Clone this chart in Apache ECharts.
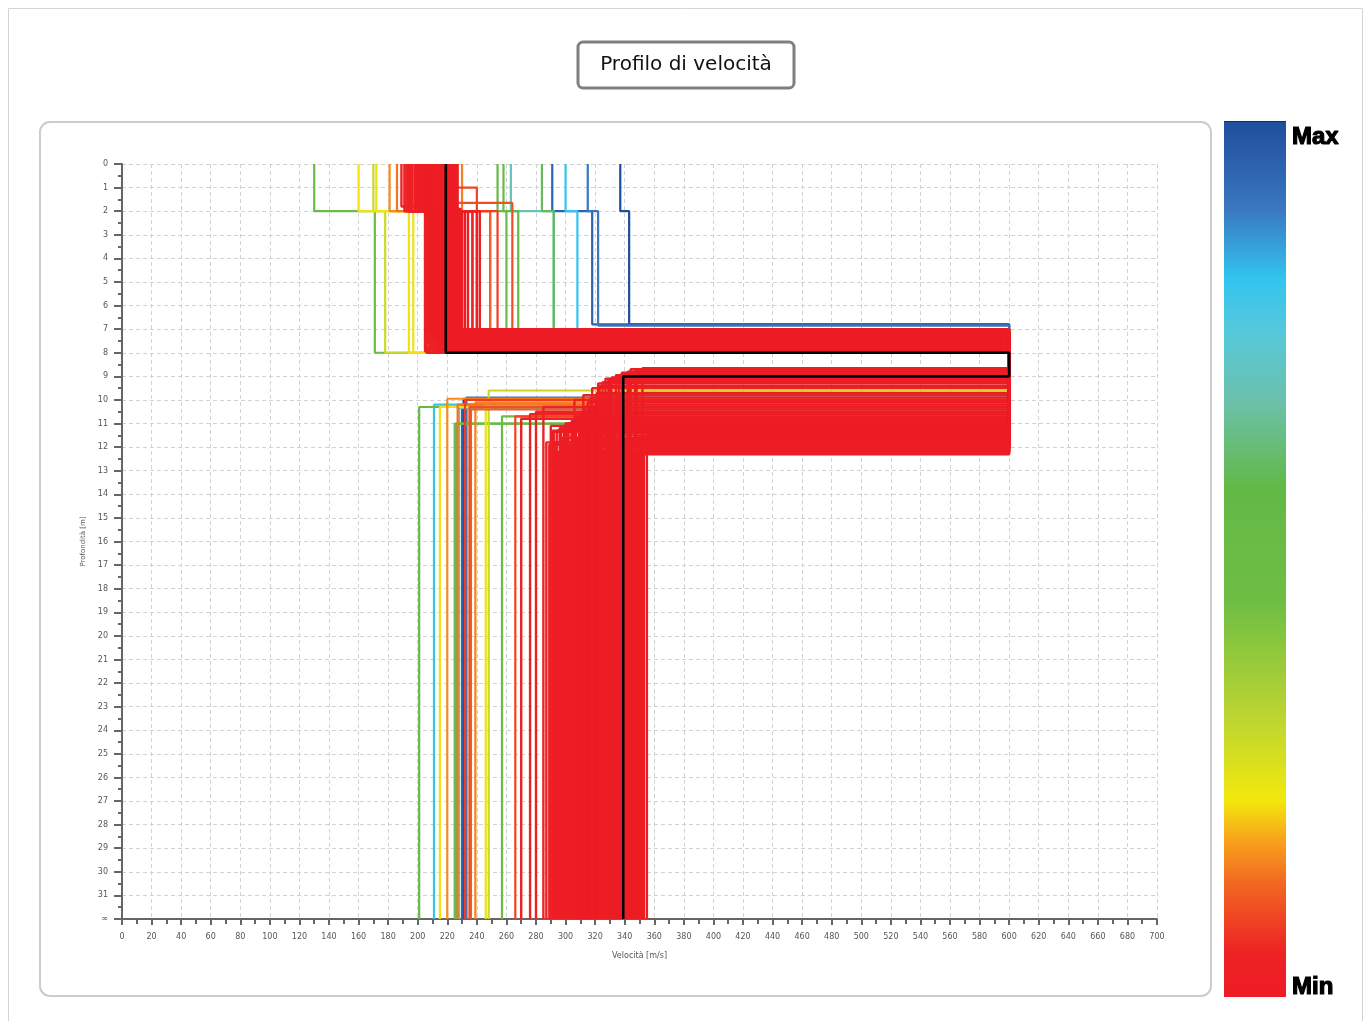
<!DOCTYPE html>
<html>
<head>
<meta charset="utf-8">
<title>Profilo di velocità</title>
<script src="https://cdn.jsdelivr.net/npm/echarts@6/dist/echarts.min.js"></script>
<style>
  html, body { margin: 0; padding: 0; background: #ffffff; }
  #chart { width: 1370px; height: 1021px; }
</style>
</head>
<body>
<div id="chart"></div>
<script>
// Shear-wave velocity profiles of the inversion (one entry per model).
// vsN = velocity of layer N [m/s], zbN = depth of the bottom of layer N [m],
// vs4 = half-space velocity, misfit = normalised misfit (0 = min, 1 = max).
const vs1 = [337, 315, 291, 300, 263, 284, 254, 130, 258, 170, 160, 172, 181, 230, 186, 225, 225, 192, 197,
             205, 210, 214, 216, 218, 220, 222, 212, 208, 202, 200, 217, 219, 221, 223, 215, 213, 211, 224, 226,
             218, 220, 216, 222, 214, 209, 206, 203, 219, 217, 215, 221, 223, 220, 218, 216, 212, 210, 204, 201,
             199, 196, 194, 207, 211, 213, 209, 224, 225, 220,
             221, 222, 224, 226, 227, 220, 223, 225, 221, 219, 218, 217, 214, 212, 210, 208, 206, 204, 202, 200,
             198, 195, 193, 191, 189];
const zb1 = [2, 2, 2, 2, 2, 2, 2, 2, 2, 2, 2, 2, 2, 2, 2, 1.65, 1.0, 2, 2,
             2, 1.95, 2, 1.9, 2, 2, 1.85, 2, 2, 2, 2, 1.8, 2, 2, 1.9, 2, 2, 2, 2, 2,
             1.95, 2, 2, 2, 2, 1.9, 2, 2, 2, 2, 2, 2, 2, 2, 2, 2, 2, 2, 2, 2,
             2, 2, 2, 2, 1.8, 2, 2, 2, 1.9, 2,
             2, 2, 2, 2, 2, 1.9, 2, 2, 2, 2, 2, 2, 2, 2, 2, 2, 2, 2, 1.9, 2,
             2, 2, 2, 2, 1.8];
const vs2 = [343, 322, 318, 308, 292, 292, 268, 171, 260, 178, 194, 197, 206, 237, 249, 264, 240, 254, 249,
             212, 215, 217, 221, 223, 225, 227, 214, 211, 208, 206, 219, 222, 224, 226, 218, 220, 216, 228, 230,
             221, 223, 219, 232, 229, 213, 210, 209, 226, 224, 234, 226, 224, 222, 221, 220, 237, 242, 215, 213,
             211, 209, 207, 230, 218, 225, 240, 227, 229, 221,
             223, 225, 226, 227, 228, 222, 224, 226, 227, 221, 220, 219, 218, 216, 215, 213, 212, 210, 209, 207,
             205, 205, 206, 208, 210];
const zb2 = [6.8, 6.85, 6.8, 7.9, 7.9, 7.85, 7.9, 8.0, 7.9, 8.0, 8.0, 8.0, 8.0, 7.85, 7.85, 7.8, 7.8, 7.85, 7.8,
             7.95, 7.9, 7.8, 7.7, 7.6, 7.5, 7.4, 7.95, 7.95, 8.0, 8.0, 7.85, 7.75, 7.65, 7.55, 7.45, 7.35, 7.25, 7.15, 7.05,
             7.9, 7.8, 7.7, 7.6, 7.5, 7.4, 7.3, 7.2, 7.1, 7.0, 7.85, 7.75, 7.65, 7.55, 7.45, 7.35, 7.2, 7.1, 7.0, 7.9,
             7.8, 7.7, 7.6, 7.5, 7.4, 7.3, 7.15, 7.05, 7.95, 7.85,
             7.9, 7.8, 7.7, 7.6, 7.5, 7.4, 7.3, 7.2, 7.1, 7.0, 7.9, 7.8, 7.7, 7.6, 7.5, 7.4, 7.3, 7.2, 7.1, 7.0,
             7.95, 7.85, 7.75, 7.65, 7.55];
const vs3 = [600, 600, 600, 600, 600, 600, 600, 600, 600, 600, 600, 600, 600, 600, 600, 600, 600, 600, 600,
             600, 600, 600, 600, 600, 600, 600, 600, 600, 600, 600, 600, 600, 600, 600, 600, 600, 600, 600, 600,
             600, 600, 600, 600, 600, 600, 600, 600, 600, 600, 600, 600, 600, 600, 600, 600, 600, 600, 600, 600,
             600, 600, 600, 600, 600, 600, 600, 600, 600, 600,
             600, 600, 600, 600, 600, 600, 600, 600, 600, 600, 600, 600, 600, 600, 600, 600, 600, 600, 600, 600,
             600, 600, 600, 600, 600];
const zb3 = [9.95, 9.9, 10.2, 10.2, 10.35, 11.0, 10.3, 10.7, 11.0, 9.6, 10.3, 10.25, 9.95, 10.1, 10.2, 10.3, 10.7, 10.0, 10.4,
             11.3, 11.2, 11.0, 10.9, 10.6, 10.4, 10.2, 12.2, 12.0, 11.8, 11.6, 11.9, 11.7, 11.5, 11.4, 12.25, 12.1, 11.95, 11.85, 11.75,
             11.65, 11.55, 11.45, 11.35, 11.25, 11.15, 11.05, 10.95, 10.85, 10.75, 9.2, 9.0, 8.9, 8.75, 8.65, 9.1, 9.3, 9.5, 9.8, 10.0,
             10.5, 10.3, 10.6, 10.8, 11.1, 11.2, 11.4, 12.0, 12.3, 11.3,
             11.35, 11.25, 11.15, 11.0, 10.9, 10.7, 10.5, 10.3, 10.1, 9.9, 9.7, 9.4, 9.25, 9.15, 9.05, 8.95, 8.85, 8.8, 8.7, 8.7,
             12.15, 12.05, 11.95, 11.9, 11.8];
const vs4 = [231, 233, 230, 211, 228, 225, 201, 257, 226, 248, 215, 246, 220, 239, 227, 235, 266, 232, 236,
             291, 296, 300, 305, 310, 316, 320, 295, 300, 293, 298, 303, 308, 312, 318, 322, 326, 330, 335, 341,
             345, 350, 355, 337, 333, 328, 324, 319, 314, 309, 330, 336, 343, 348, 352, 327, 322, 318, 312, 306,
             280, 285, 276, 270, 290, 302, 332, 340, 346, 294,
             292, 297, 299, 301, 304, 307, 311, 313, 315, 317, 321, 323, 325, 329, 331, 334, 338, 342, 344, 347,
             349, 351, 353, 289, 287];
const misfit = [1.0, 0.9, 0.95, 0.82, 0.7, 0.6, 0.55, 0.5, 0.52, 0.3, 0.22, 0.24, 0.16, 0.15, 0.14, 0.1, 0.09, 0.08, 0.12,
             0.03, 0.02, 0.02, 0.01, 0.01, 0.01, 0.0, 0.03, 0.03, 0.04, 0.04, 0.02, 0.02, 0.01, 0.01, 0.02, 0.01, 0.02, 0.0, 0.01,
             0.0, 0.01, 0.02, 0.0, 0.01, 0.02, 0.03, 0.04, 0.01, 0.02, 0.01, 0.0, 0.0, 0.0, 0.01, 0.01, 0.02, 0.03, 0.03, 0.04,
             0.04, 0.05, 0.05, 0.04, 0.03, 0.02, 0.02, 0.01, 0.01, 0.0,
             0.01, 0.01, 0.0, 0.01, 0.01, 0.0, 0.0, 0.01, 0.0, 0.01, 0.0, 0.01, 0.01, 0.01, 0.01, 0.01, 0.0, 0.0, 0.01, 0.01,
             0.02, 0.03, 0.03, 0.04, 0.05];

// Best-fitting model (drawn in black on top)
const bestVs = [219, 219, 600, 339];
const bestZb = [2, 8, 9];

// Depth axis: 0..31 m, the last tick stands for the half-space
const depthTicks = [0, 1, 2, 3, 4, 5, 6, 7, 8, 9, 10, 11, 12, 13, 14, 15, 16, 17, 18, 19, 20,
                    21, 22, 23, 24, 25, 26, 27, 28, 29, 30, 31, 32];
const halfSpaceDepth = 32;
const halfSpaceLabel = '\u221E';

// Colour scale for the misfit (position 0 = Min, 1 = Max)
const scaleStops = [
  [0.00, '#ed1c24'], [0.05, '#ed2224'], [0.13, '#f26822'], [0.18, '#f8a41b'],
  [0.225, '#f3e80c'], [0.32, '#bcd532'], [0.45, '#6fbe44'], [0.58, '#62b946'],
  [0.68, '#6bc1aa'], [0.76, '#56c8dc'], [0.82, '#33c4ef'], [0.90, '#3977bf'], [1.00, '#1f4e9c']
];

function hexToRgb(h) {
  return [parseInt(h.slice(1, 3), 16), parseInt(h.slice(3, 5), 16), parseInt(h.slice(5, 7), 16)];
}
function misfitColor(m) {
  for (let i = 1; i < scaleStops.length; i++) {
    const [p0, c0] = scaleStops[i - 1];
    const [p1, c1] = scaleStops[i];
    if (m <= p1) {
      const t = (m - p0) / (p1 - p0);
      const a = hexToRgb(c0), b = hexToRgb(c1);
      const c = a.map((v, k) => Math.round(v + (b[k] - v) * t));
      return 'rgb(' + c.join(',') + ')';
    }
  }
  return scaleStops[scaleStops.length - 1][1];
}

// Staircase polyline of one layered model
function profilePoints(v, z) {
  const pts = [];
  let top = 0;
  for (let i = 0; i < v.length; i++) {
    const bottom = i < z.length ? z[i] : halfSpaceDepth;
    pts.push([v[i], top], [v[i], bottom]);
    top = bottom;
  }
  return pts;
}

// Worst models first so the best ones end up on top
const order = misfit.map((m, i) => i).sort((a, b) => misfit[b] - misfit[a]);
const series = order.map(i => ({
  type: 'line',
  data: profilePoints([vs1[i], vs2[i], vs3[i], vs4[i]], [zb1[i], zb2[i], zb3[i]]),
  showSymbol: false,
  symbol: 'none',
  silent: true,
  lineStyle: { color: misfitColor(misfit[i]), width: misfit[i] < 0.06 ? 2.4 : 2.2 },
  z: 2
}));
series.push({
  type: 'line',
  data: profilePoints(bestVs, bestZb),
  symbol: 'none',
  silent: true,
  lineStyle: { color: '#000000', width: 2.6 },
  z: 3
});

const axisFont = { fontFamily: 'DejaVu Sans', fontSize: 8, color: '#555555' };
const gridDash = { color: '#d2d2d2', width: 1, type: [4, 3] };

const chart = echarts.init(document.getElementById('chart'), null, { renderer: 'canvas' });
chart.setOption({
  animation: false,
  backgroundColor: '#ffffff',
  grid: { left: 122, right: 213, top: 164, bottom: 102, containLabel: false },
  xAxis: {
    type: 'value',
    min: 0, max: 700, interval: 20,
    name: 'Velocità [m/s]',
    nameLocation: 'middle',
    nameGap: 33,
    nameTextStyle: { fontFamily: 'DejaVu Sans', fontSize: 8, color: '#555555' },
    axisLine: { onZero: false, lineStyle: { color: '#666666', width: 2 } },
    axisTick: { length: 6, lineStyle: { color: '#666666', width: 2 } },
    minorTick: { show: true, splitNumber: 2, length: 5, lineStyle: { color: '#666666', width: 2 } },
    axisLabel: Object.assign({ margin: 14 }, axisFont),
    splitLine: { show: true, lineStyle: gridDash }
  },
  yAxis: {
    type: 'value',
    inverse: true,
    min: 0, max: halfSpaceDepth, interval: 1,
    name: 'Profondità [m]',
    nameLocation: 'middle',
    nameGap: 30,
    nameRotate: 90,
    nameTextStyle: { fontFamily: 'DejaVu Sans', fontSize: 7, color: '#555555' },
    axisLine: { onZero: false, lineStyle: { color: '#666666', width: 2 } },
    axisTick: { length: 8, lineStyle: { color: '#666666', width: 2 } },
    minorTick: { show: true, splitNumber: 2, length: 4, lineStyle: { color: '#666666', width: 2 } },
    axisLabel: Object.assign({
      margin: 14,
      formatter: v => (v === halfSpaceDepth ? halfSpaceLabel : (depthTicks.includes(v) ? String(v) : ''))
    }, axisFont),
    splitLine: { show: true, lineStyle: gridDash }
  },
  graphic: [
    { type: 'rect', shape: { x: 8.5, y: 8.5, width: 1354, height: 1020 }, silent: true,
      style: { fill: 'none', stroke: '#d4d4d4', lineWidth: 1 }, z: -10 },
    { type: 'rect', shape: { x: 40, y: 122, width: 1171, height: 874, r: 10 }, silent: true,
      style: { fill: 'none', stroke: '#cccccc', lineWidth: 2 }, z: -10 },
    { type: 'rect', shape: { x: 578, y: 42, width: 216, height: 46, r: 5 }, silent: true,
      style: { fill: '#ffffff', stroke: '#7f7f7f', lineWidth: 3 }, z: 10 },
    { type: 'text', x: 686, y: 65, silent: true, z: 11,
      style: { text: 'Profilo di velocità', fontFamily: 'DejaVu Sans', fontSize: 20,
               fill: '#111111', align: 'center', verticalAlign: 'middle' } },
    { type: 'rect', shape: { x: 1224, y: 121, width: 62, height: 876 }, silent: true, z: 10,
      style: {
        fill: new echarts.graphic.LinearGradient(0, 0, 0, 1,
          scaleStops.map(s => ({ offset: 1 - s[0], color: s[1] })).reverse())
      } },
    { type: 'rect', shape: { x: 1224, y: 121, width: 62, height: 1 }, silent: true, z: 11,
      style: { fill: '#1a2a50' } },
    { type: 'text', x: 1292, y: 137, silent: true, z: 11,
      style: { text: 'Max', fontFamily: 'Liberation Sans', fontWeight: 'bold', fontSize: 24,
               fill: '#000000', stroke: '#000000', lineWidth: 1.2, align: 'left', verticalAlign: 'middle' } },
    { type: 'text', x: 1292, y: 987, silent: true, z: 11,
      style: { text: 'Min', fontFamily: 'Liberation Sans', fontWeight: 'bold', fontSize: 24,
               fill: '#000000', stroke: '#000000', lineWidth: 1.2, align: 'left', verticalAlign: 'middle' } }
  ],
  series: series
});
</script>
</body>
</html>
